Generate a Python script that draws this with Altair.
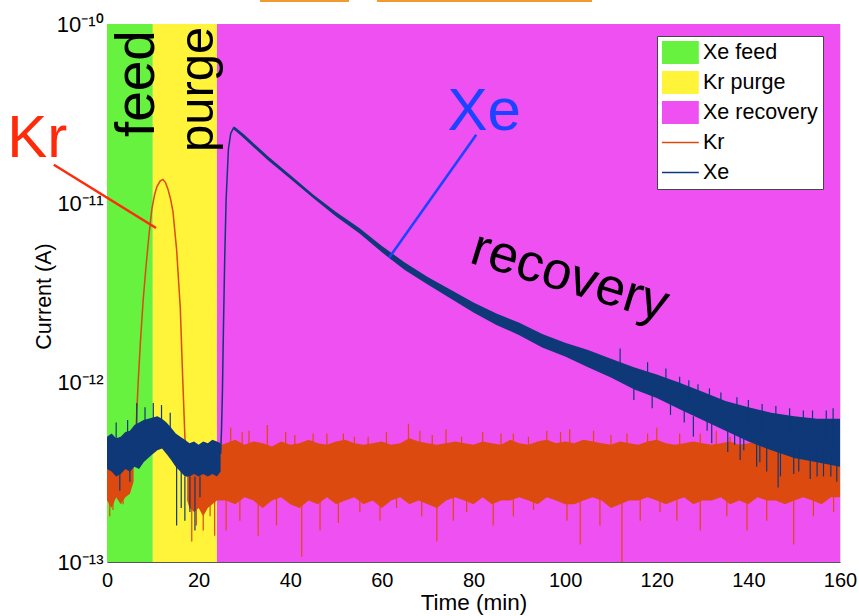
import altair as alt
import pandas as pd

# ---------------- data (currents in pA) ----------------
phase_names = ['Xe feed', 'Kr purge', 'Xe recovery']
phase_start = [0, 10, 24]
phase_end = [10, 24, 160]

legend_names = ['Xe feed', 'Kr purge', 'Xe recovery', 'Kr', 'Xe']
legend_colors = ['#66f23e', '#fff43a', '#ee50f2', '#dd4a10', '#0f3878']

# Kr noise before the peak
kr_a_t = [0, 1, 2, 3, 4, 5, 5.8]
kr_a_lo = [0.22, 0.20, 0.23, 0.21, 0.23, 0.24, 0.28]
kr_a_hi = [0.35, 0.34, 0.36, 0.35, 0.37, 0.38, 0.42]

# Kr peak
kr_pk_t = [5.8, 6.0, 6.4, 6.8, 7.3, 7.9, 8.5, 9.2, 9.8, 10.4, 10.9, 11.6, 12.2,
           12.8, 13.3, 13.9, 14.4, 15.2, 16.0, 16.5, 17.0, 17.5]
kr_pk_v = [0.35, 0.40, 0.60, 1.0, 1.7, 2.9, 4.4, 6.8, 9.3, 11.2, 12.4, 13.3, 13.6,
           13.0, 12.0, 10.5, 9.0, 5.5, 2.6, 1.1, 0.50, 0.30]

# Kr noise after the peak
kr_b_t = [17.5, 18, 19, 20, 21, 22, 23, 24] + list(range(26, 161, 2))
kr_b_lo = [0.22, 0.20, 0.19, 0.20, 0.18, 0.20, 0.21, 0.22,
           0.22, 0.21, 0.23, 0.22, 0.20, 0.22, 0.23, 0.21, 0.20, 0.22, 0.21, 0.23,
           0.21, 0.22, 0.23, 0.21, 0.22, 0.20, 0.22, 0.23, 0.21, 0.22, 0.21, 0.20,
           0.22, 0.23, 0.22, 0.21, 0.23, 0.21, 0.22, 0.22, 0.23, 0.22, 0.21, 0.23,
           0.22, 0.21, 0.21, 0.22, 0.23, 0.22, 0.20, 0.21, 0.22, 0.22, 0.23, 0.22,
           0.21, 0.22, 0.23, 0.21, 0.22, 0.22, 0.23, 0.21, 0.22, 0.21, 0.23, 0.22,
           0.22, 0.21, 0.22, 0.23, 0.22, 0.21, 0.23, 0.23]
kr_b_hi = [0.34, 0.33, 0.32, 0.33, 0.31, 0.32, 0.34, 0.44,
           0.46, 0.48, 0.45, 0.47, 0.46, 0.44, 0.47, 0.45, 0.46, 0.48, 0.46, 0.45,
           0.47, 0.48, 0.46, 0.45, 0.46, 0.47, 0.45, 0.46, 0.49, 0.47, 0.46, 0.45,
           0.46, 0.47, 0.46, 0.45, 0.47, 0.46, 0.45, 0.48, 0.46, 0.45, 0.47, 0.48,
           0.46, 0.47, 0.46, 0.48, 0.47, 0.46, 0.45, 0.47, 0.46, 0.45, 0.47, 0.48,
           0.46, 0.45, 0.46, 0.47, 0.46, 0.45, 0.46, 0.47, 0.45, 0.46, 0.47, 0.45,
           0.46, 0.47, 0.45, 0.46, 0.45, 0.46, 0.47, 0.46]

# Kr spikes (time, tip low, tip high)
kr_spk_t = [0.6, 1.3, 3.5, 18.5, 19.5, 21, 22.5, 23.5, 26, 29, 33, 37, 42.5, 46.5,
            50.5, 55.2, 59.6, 63.2, 68.7, 72.0, 75.6, 78.5, 84.3, 88.7, 93.1, 100.4,
            103.3, 107.6, 112.4, 116.4, 120.7, 124.4, 129.5, 135.3, 139.7, 144.0,
            149.9, 154.2, 158.6,
            27, 31, 35, 39, 45.0, 51.6, 57, 65.8, 68.3, 77.4, 82, 88.7, 96.0, 101,
            106.2, 113.5, 120.0, 125, 129.5, 136, 142.6, 148, 155,
            29.5, 41, 48, 54, 61, 71, 74, 86, 92, 99, 110, 118, 133, 146, 151, 159]
kr_spk_lo = [0.18, 0.195, 0.21, 0.13, 0.16, 0.15, 0.18, 0.14, 0.15, 0.17, 0.14, 0.16,
             0.107, 0.15, 0.165, 0.19, 0.17, 0.20, 0.18, 0.13, 0.17, 0.19, 0.16, 0.18,
             0.195, 0.17, 0.125, 0.16, 0.10, 0.17, 0.19, 0.17, 0.15, 0.18, 0.15, 0.17,
             0.125, 0.18, 0.19,
             0.40, 0.40, 0.40, 0.40, 0.40, 0.40, 0.40, 0.40, 0.40, 0.40, 0.40, 0.40,
             0.40, 0.40, 0.40, 0.40, 0.40, 0.40, 0.40, 0.40, 0.40, 0.40, 0.40,
             0.40, 0.40, 0.40, 0.40, 0.40, 0.40, 0.40, 0.40, 0.40, 0.40, 0.40, 0.40,
             0.40, 0.40, 0.40, 0.40]
kr_spk_hi = [0.25] * 39 + [0.56, 0.54, 0.58, 0.53, 0.52, 0.52, 0.50, 0.59, 0.54,
                           0.50, 0.53, 0.52, 0.54, 0.55, 0.54, 0.52, 0.56, 0.52,
                           0.52, 0.50, 0.49, 0.53, 0.50,
                           0.53, 0.51, 0.52, 0.50, 0.53, 0.51, 0.55, 0.52, 0.50,
                           0.53, 0.51, 0.52, 0.54, 0.51, 0.52, 0.50]

# Xe noise during feed / purge
xe_a_t = list(range(0, 25)) + [24.8]
xe_a_lo = [0.33, 0.32, 0.30, 0.31, 0.33, 0.32, 0.34, 0.33, 0.36, 0.38, 0.40, 0.42, 0.43,
           0.40, 0.37, 0.34, 0.32, 0.30, 0.30, 0.31, 0.30, 0.31, 0.30, 0.31, 0.30, 0.32]
xe_a_hi = [0.50, 0.52, 0.49, 0.50, 0.53, 0.54, 0.58, 0.60, 0.62, 0.63, 0.64, 0.65, 0.63,
           0.60, 0.56, 0.52, 0.50, 0.48, 0.46, 0.47, 0.45, 0.47, 0.46, 0.48, 0.47, 0.46]

# Xe rise
xe_rise_t = [24.8, 25.0, 25.2, 25.4, 25.7, 26.0, 26.5, 27.0, 27.6, 28.0]
xe_rise_v = [0.40, 0.55, 0.9, 1.9, 5.0, 10.5, 20.0, 24.5, 26.3, 26.0]

# Xe recovery decay band
xe_d_t = [27.6, 28, 30, 35, 40, 45, 50, 55, 60, 65, 70, 75, 80, 85, 90, 95, 100,
          105, 110, 115, 120, 125, 130, 135, 140, 145, 150, 155, 160]
xe_d_lo = [25.8, 25.4, 22.9, 17.5, 13.7, 10.7, 8.45, 6.83, 5.33, 4.25, 3.53, 2.95,
           2.46, 2.10, 1.84, 1.57, 1.40, 1.22, 1.07, 0.92, 0.82, 0.71, 0.62,
           0.54, 0.47, 0.42, 0.38, 0.36, 0.34]
xe_d_hi = [26.8, 26.6, 24.1, 18.4, 14.4, 11.2, 8.95, 7.30, 5.78, 4.68, 3.88, 3.30,
           2.80, 2.43, 2.16, 1.87, 1.67, 1.52, 1.36, 1.22, 1.11, 1.00, 0.89,
           0.79, 0.73, 0.68, 0.65, 0.63, 0.63]

# Xe spikes
xe_spk_t = [6.5, 8.3, 10.1, 11.9, 13.8, 2.0, 4.5, 2.8, 5.0, 15.2, 16.2, 17.0, 18.1,
            19.2, 20.3,
            115, 119, 123, 126, 128, 131, 132, 135.5, 137, 138.2, 139, 141.8, 142.5,
            144, 146.5, 147, 149.9, 151, 153.5, 155, 156.4, 158, 159.3,
            112, 118, 122, 125, 127, 129, 131.5, 134, 137.5, 140, 143, 146, 149,
            152, 154, 157, 158.5]
xe_spk_lo = [0.55, 0.60, 0.60, 0.60, 0.55, 0.48, 0.50, 0.25, 0.28, 0.16, 0.20, 0.17,
             0.19, 0.15, 0.23,
             0.80, 0.72, 0.66, 0.60, 0.50, 0.54, 0.46, 0.41, 0.45, 0.37, 0.42, 0.34,
             0.36, 0.32, 0.26, 0.30, 0.31, 0.32, 0.29, 0.30, 0.30, 0.30, 0.28,
             1.20, 1.00, 0.95, 0.85, 0.80, 0.75, 0.70, 0.65, 0.60, 0.57, 0.53, 0.50,
             0.48, 0.46, 0.45, 0.44, 0.44]
xe_spk_hi = [0.77, 0.73, 0.77, 0.75, 0.68, 0.60, 0.62, 0.32, 0.34, 0.34, 0.32, 0.30,
             0.30, 0.30, 0.30,
             1.00, 0.90, 0.80, 0.75, 0.65, 0.68, 0.60, 0.55, 0.55, 0.50, 0.50, 0.48,
             0.48, 0.45, 0.45, 0.45, 0.45, 0.44, 0.42, 0.42, 0.42, 0.42, 0.42,
             1.55, 1.30, 1.20, 1.08, 1.03, 0.98, 0.93, 0.88, 0.83, 0.80, 0.76, 0.74,
             0.72, 0.70, 0.70, 0.70, 0.72]

PA = 1e-12
KR_C = legend_colors[3]
XE_C = legend_colors[4]
FONT = 'Liberation Sans'

# ---------------- frames ----------------
phases = pd.DataFrame({'name': phase_names, 't0': phase_start, 't1': phase_end,
                       'ylo': 1e-13, 'yhi': 1e-10})
kr_band = pd.concat([
    pd.DataFrame({'seg': 'a', 't': kr_a_t, 'lo': [v * PA for v in kr_a_lo], 'hi': [v * PA for v in kr_a_hi]}),
    pd.DataFrame({'seg': 'b', 't': kr_b_t, 'lo': [v * PA for v in kr_b_lo], 'hi': [v * PA for v in kr_b_hi]}),
])
kr_peak = pd.DataFrame({'t': kr_pk_t, 'v': [v * PA for v in kr_pk_v]})
kr_spk = pd.DataFrame({'t': kr_spk_t, 'lo': [v * PA for v in kr_spk_lo], 'hi': [v * PA for v in kr_spk_hi]})
xe_band = pd.concat([
    pd.DataFrame({'seg': 'a', 't': xe_a_t, 'lo': [v * PA for v in xe_a_lo], 'hi': [v * PA for v in xe_a_hi]}),
    pd.DataFrame({'seg': 'd', 't': xe_d_t, 'lo': [v * PA for v in xe_d_lo], 'hi': [v * PA for v in xe_d_hi]}),
])
xe_rise = pd.DataFrame({'t': xe_rise_t, 'v': [v * PA for v in xe_rise_v]})
xe_spk = pd.DataFrame({'t': xe_spk_t, 'lo': [v * PA for v in xe_spk_lo], 'hi': [v * PA for v in xe_spk_hi]})
leg = pd.DataFrame({'name': legend_names, 't': [80] * 5, 'v': [1e-12] * 5})
one = pd.DataFrame({'a': [0]})

xscale = alt.Scale(domain=[0, 160], nice=False, zero=False)
yscale = alt.Scale(type='log', domain=[1e-13, 1e-10], nice=False)

xaxis = alt.Axis(values=list(range(0, 161, 20)), title='Time (min)', labelFont=FONT,
                 labelFontSize=20, labelColor='black', ticks=False, labelPadding=8,
                 labelFlush=False, domainColor='#555', grid=False, titleFont=FONT,
                 titleFontSize=22.5, titleFontWeight='normal', titleColor='black',
                 titlePadding=1)
yaxis = alt.Axis(values=[1e-13, 1e-12, 1e-11, 1e-10], title='Current (A)',
                 labelExpr="datum.value < 5e-13 ? '10⁻¹³' : datum.value < 5e-12 ? '10⁻¹²' : datum.value < 5e-11 ? '10⁻¹¹' : '10⁻¹⁰'",
                 labelFont=FONT, labelFontSize=22, labelColor='black', ticks=False,
                 labelPadding=4, labelFlush=False, domain=False, grid=False,
                 titleFont=FONT, titleFontSize=21.5, titleFontWeight='normal',
                 titleColor='black', titleX=-63, titleY=272, titleAngle=270,
                 titleAlign='center', titleBaseline='middle')

RECT = 'M-1,-1H2.2V1H-1Z'
LINE = 'M-1,-1M-1,-0.06H2.2V0.06H-1ZM2.2,1'
fill_scale = alt.Scale(domain=legend_names, range=legend_colors)
shape_scale = alt.Scale(domain=legend_names, range=[RECT, RECT, RECT, LINE, LINE])
legend_def = alt.Legend(title=None, orient='none', legendX=550, legendY=12,
                        fillColor='white', strokeColor='#444', padding=5,
                        labelFont=FONT, labelFontSize=21.5, labelColor='black',
                        symbolSize=529, symbolStrokeWidth=0, symbolOpacity=1,
                        symbolType=RECT, rowPadding=7, labelOffset=18, cornerRadius=0)

bg = alt.Chart(phases).mark_rect().encode(
    x=alt.X('t0:Q', scale=xscale, axis=xaxis),
    x2='t1:Q',
    y=alt.Y('ylo:Q', scale=yscale, axis=yaxis),
    y2='yhi:Q',
    fill=alt.Fill('name:N', scale=fill_scale, legend=legend_def),
)


def xq():
    return alt.X('t:Q', scale=xscale, title='Time (min)')


def yq(f):
    return alt.Y(f, scale=yscale, title='Current (A)')


kr_area = alt.Chart(kr_band).mark_area(color=KR_C, opacity=1).encode(
    x=xq(), y=yq('lo:Q'), y2='hi:Q', detail='seg:N')
kr_line = alt.Chart(kr_peak).mark_line(color=KR_C, strokeWidth=1.5).encode(
    x=xq(), y=yq('v:Q'))
kr_spikes = alt.Chart(kr_spk).mark_rule(color=KR_C, strokeWidth=1.2).encode(
    x=xq(), y=yq('lo:Q'), y2='hi:Q')

xe_area = alt.Chart(xe_band).mark_area(color=XE_C, opacity=1).encode(
    x=xq(), y=yq('lo:Q'), y2='hi:Q', detail='seg:N')
xe_line = alt.Chart(xe_rise).mark_line(color=XE_C, strokeWidth=1.5).encode(
    x=xq(), y=yq('v:Q'))
xe_spikes = alt.Chart(xe_spk).mark_rule(color=XE_C, strokeWidth=1.2).encode(
    x=xq(), y=yq('lo:Q'), y2='hi:Q')


def label(text, x, y, size, color, angle=0):
    return alt.Chart(one).mark_text(text=text, font=FONT, fontSize=size, color=color,
                                    align='left', baseline='alphabetic', angle=angle).encode(
        x=alt.datum(x), y=alt.datum(y))


def pointer(x1, y1, x2, y2, color):
    return alt.Chart(one).mark_rule(color=color, strokeWidth=2.5).encode(
        x=alt.datum(x1), y=alt.datum(y1), x2=alt.datum(x2), y2=alt.datum(y2))


ann = [
    label('Kr', -21.8, 1.82e-11, 60, '#ff2a0a'),
    pointer(-11.6, 1.64e-11, 10.7, 7.28e-12, '#ff2a0a'),
    label('Xe', 74.3, 2.55e-11, 60, '#1a44ff'),
    pointer(80.6, 2.41e-11, 61.6, 4.98e-12, '#1a44ff'),
    label('feed', 10.26, 2.34e-11, 55, 'black', 270),
    label('purge', 23.1, 1.93e-11, 49, 'black', 270),
    label('recovery', 78.8, 4.70e-12, 53, 'black', 17),
]

strips = [
    alt.Chart(one).mark_rule(color='#f39a2e', strokeWidth=2).encode(
        x=alt.value(153), x2=alt.value(242), y=alt.value(-23)),
    alt.Chart(one).mark_rule(color='#f39a2e', strokeWidth=2).encode(
        x=alt.value(270), x2=alt.value(485), y=alt.value(-23)),
]

legend_layer = alt.Chart(leg).mark_point(filled=True, opacity=0).encode(
    x=xq(), y=yq('v:Q'),
    fill=alt.Fill('name:N', scale=fill_scale, legend=legend_def),
    shape=alt.Shape('name:N', scale=shape_scale, legend=legend_def),
)

chart = alt.layer(bg, kr_area, kr_line, kr_spikes, xe_area, xe_line, xe_spikes,
                  *ann, *strips, legend_layer).properties(
    width=733, height=538, autosize='none',
    padding={'left': 107, 'top': 24, 'right': 19, 'bottom': 54},
).configure_view(stroke='#999', strokeWidth=1).configure(background='white')

chart.save('out.html', embed_options={'renderer': 'svg', 'actions': False})
